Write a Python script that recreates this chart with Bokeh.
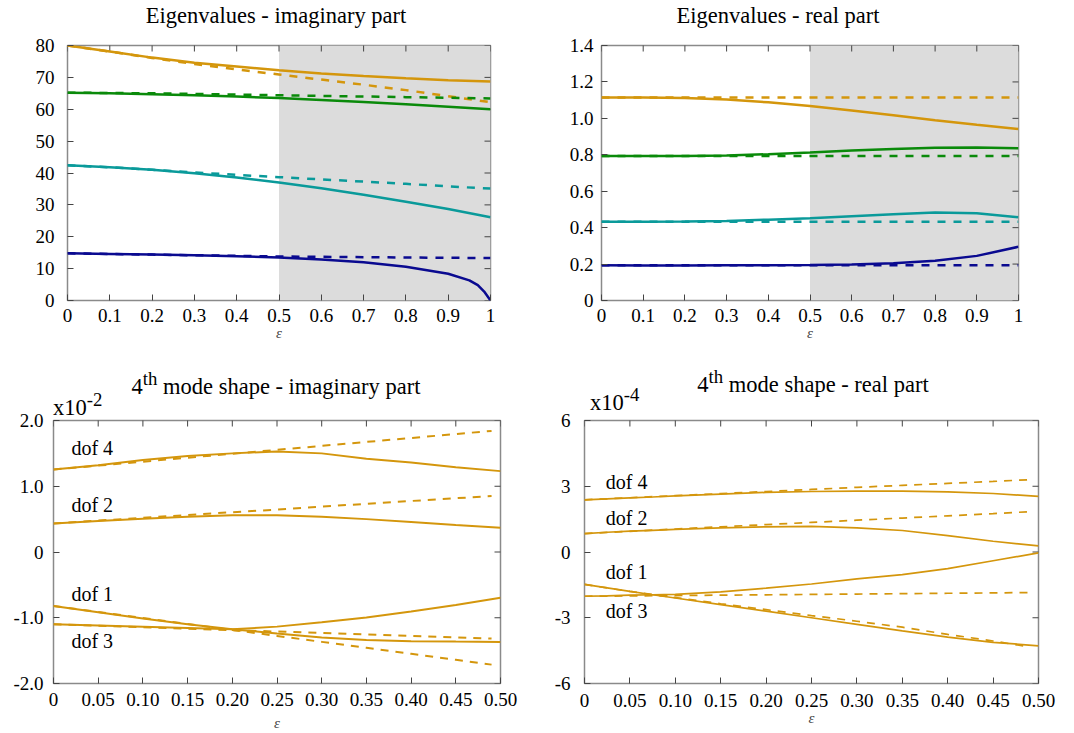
import math
from bokeh.plotting import figure
from bokeh.layouts import column, row
from bokeh.models import Range1d, FixedTicker, LinearAxis, BoxAnnotation, Div, ColumnDataSource
from bokeh.core.properties import value
from bokeh.embed import file_html
from bokeh.resources import INLINE

FONT = "Liberation Serif"
HTML_FONT = "'Liberation Serif', 'Times New Roman', serif"
ORANGE = "#d4960c"
GREEN = "#0a8a0a"
TEAL = "#0a9a9a"
NAVY = "#0a0a90"

# ---------------- data: eigenvalues ----------------
eps_top = [0, 0.1, 0.2, 0.3, 0.4, 0.5, 0.6, 0.7, 0.8, 0.9, 1.0]
eps_top_navy = [0, 0.1, 0.2, 0.3, 0.4, 0.5, 0.6, 0.7, 0.8, 0.9, 0.95, 0.97, 0.985, 1.0]
shade_start = 0.5
shade_end = 1.0

imag_m4_coupled = [80, 78.1, 76.2, 74.6, 73.4, 72.2, 71.2, 70.4, 69.7, 69.1, 68.7]
imag_m4_uncoupled = [80, 78.1, 76.1, 74.2, 72.5, 70.9, 69.3, 67.7, 66.0, 64.1, 62.2]
imag_m3_coupled = [65.2, 65.0, 64.7, 64.4, 64.0, 63.5, 62.9, 62.3, 61.6, 60.8, 60.0]
imag_m3_uncoupled = [65.2, 65.1, 65.0, 64.8, 64.6, 64.4, 64.2, 64.0, 63.8, 63.6, 63.4]
imag_m2_coupled = [42.4, 41.8, 41.0, 39.9, 38.6, 37.0, 35.2, 33.2, 31.0, 28.7, 26.1]
imag_m2_uncoupled = [42.4, 41.8, 41.0, 40.2, 39.4, 38.7, 38.0, 37.3, 36.6, 35.8, 35.1]
imag_m1_coupled = [14.8, 14.6, 14.4, 14.2, 13.9, 13.5, 12.9, 12.0, 10.6, 8.4, 6.3, 4.8, 2.8, 0.0]
imag_m1_uncoupled = [14.8, 14.6, 14.4, 14.2, 14.0, 13.8, 13.7, 13.6, 13.5, 13.4, 13.3]

real_m4_coupled = [1.115, 1.114, 1.112, 1.104, 1.088, 1.068, 1.043, 1.017, 0.990, 0.965, 0.941]
real_m4_uncoupled = [1.115, 1.115, 1.115, 1.115, 1.115, 1.115, 1.115, 1.115, 1.115, 1.115, 1.115]
real_m3_coupled = [0.794, 0.793, 0.793, 0.796, 0.803, 0.812, 0.823, 0.832, 0.839, 0.840, 0.836]
real_m3_uncoupled = [0.794, 0.794, 0.794, 0.794, 0.794, 0.794, 0.794, 0.794, 0.794, 0.794, 0.794]
real_m2_coupled = [0.433, 0.433, 0.434, 0.437, 0.444, 0.452, 0.463, 0.474, 0.483, 0.479, 0.457]
real_m2_uncoupled = [0.433, 0.433, 0.433, 0.433, 0.433, 0.433, 0.433, 0.433, 0.433, 0.433, 0.433]
real_m1_coupled = [0.193, 0.192, 0.192, 0.193, 0.194, 0.195, 0.198, 0.205, 0.218, 0.245, 0.295]
real_m1_uncoupled = [0.193, 0.193, 0.193, 0.193, 0.193, 0.193, 0.193, 0.193, 0.193, 0.193, 0.193]

top_x_ticks = [0, 0.1, 0.2, 0.3, 0.4, 0.5, 0.6, 0.7, 0.8, 0.9, 1.0]
top_x_labels = ["0", "0.1", "0.2", "0.3", "0.4", "0.5", "0.6", "0.7", "0.8", "0.9", "1"]
imag_y_ticks = [0, 10, 20, 30, 40, 50, 60, 70, 80]
imag_y_labels = ["0", "10", "20", "30", "40", "50", "60", "70", "80"]
real_y_ticks = [0, 0.2, 0.4, 0.6, 0.8, 1.0, 1.2, 1.4]
real_y_labels = ["0", "0.2", "0.4", "0.6", "0.8", "1.0", "1.2", "1.4"]

# ---------------- data: 4th mode shape ----------------
eps_mode = [0, 0.05, 0.10, 0.15, 0.20, 0.25, 0.30, 0.35, 0.40, 0.45, 0.50]
eps_mode_dash = [0, 0.05, 0.10, 0.15, 0.20, 0.25, 0.30, 0.35, 0.40, 0.45, 0.49]
eps_mode_fine = [0, 0.025, 0.05, 0.075, 0.10, 0.15, 0.20, 0.25, 0.30, 0.35, 0.40, 0.45, 0.50]

# imaginary part, units of 1e-2
mi_dof4 = [1.254, 1.32, 1.40, 1.46, 1.50, 1.53, 1.50, 1.42, 1.36, 1.29, 1.23]
mi_dof4_unc = [1.254, 1.314, 1.374, 1.434, 1.494, 1.554, 1.614, 1.674, 1.734, 1.794, 1.842]
mi_dof2 = [0.435, 0.47, 0.505, 0.535, 0.56, 0.56, 0.535, 0.50, 0.455, 0.41, 0.368]
mi_dof2_unc = [0.435, 0.478, 0.52, 0.563, 0.605, 0.645, 0.69, 0.733, 0.776, 0.818, 0.85]
mi_dof1 = [-0.821, -0.918, -1.01, -1.10, -1.176, -1.24, -1.30, -1.34, -1.356, -1.363, -1.367]
mi_dof1_unc = [-0.821, -0.912, -1.003, -1.094, -1.185, -1.276, -1.367, -1.458, -1.549, -1.64, -1.713]
mi_dof3 = [-1.10, -1.118, -1.135, -1.155, -1.176, -1.135, -1.07, -0.996, -0.904, -0.806, -0.697]
mi_dof3_unc = [-1.10, -1.122, -1.144, -1.166, -1.188, -1.21, -1.232, -1.254, -1.276, -1.298, -1.316]

# real part, units of 1e-4
mr_dof4 = [2.38, 2.42, 2.47, 2.51, 2.56, 2.64, 2.72, 2.76, 2.78, 2.78, 2.74, 2.67, 2.54]
mr_dof4_unc = [2.38, 2.475, 2.57, 2.665, 2.76, 2.855, 2.95, 3.04, 3.13, 3.22, 3.30]
mr_dof2 = [0.84, 0.90, 0.95, 0.99, 1.03, 1.10, 1.15, 1.17, 1.10, 0.98, 0.75, 0.49, 0.28]
mr_dof2_unc = [0.84, 0.945, 1.05, 1.15, 1.25, 1.35, 1.45, 1.55, 1.65, 1.75, 1.84]
mr_dof1 = [-1.48, -1.64, -1.80, -1.95, -2.10, -2.40, -2.70, -3.00, -3.30, -3.60, -3.88, -4.12, -4.28]
mr_dof1_unc = [-1.48, -1.80, -2.08, -2.36, -2.63, -2.90, -3.16, -3.43, -3.76, -4.06, -4.33]
mr_dof3 = [-2.02, -2.00, -1.97, -1.95, -1.93, -1.82, -1.65, -1.46, -1.23, -1.03, -0.76, -0.40, -0.04]
mr_dof3_unc = [-2.02, -2.003, -1.986, -1.969, -1.952, -1.935, -1.918, -1.90, -1.883, -1.866, -1.85]

dof_labels = ["dof 4", "dof 2", "dof 1", "dof 3"]
imag_label_y = [1.58, 0.71, -0.635, -1.356]
real_label_y = [3.2, 1.56, -0.91, -2.68]

mode_x_ticks = [0, 0.05, 0.10, 0.15, 0.20, 0.25, 0.30, 0.35, 0.40, 0.45, 0.50]
mode_x_labels = ["0", "0.05", "0.10", "0.15", "0.20", "0.25", "0.30", "0.35", "0.40", "0.45", "0.50"]
mi_y_ticks = [-2, -1, 0, 1, 2]
mi_y_labels = ["-2.0", "-1.0", "0", "1.0", "2.0"]
mr_y_ticks = [-6, -3, 0, 3, 6]
mr_y_labels = ["-6", "-3", "0", "3", "6"]

titles_top = ["Eigenvalues - imaginary part", "Eigenvalues - real part"]
titles_bottom = ["4<sup>th</sup> mode shape - imaginary part", "4<sup>th</sup> mode shape - real part"]
scales_bottom = ["x10<sup>-2</sup>", "x10<sup>-4</sup>"]

TICK_COLOR = "#444444"
FRAME_COLOR = "#8a8a8a"
TICK_SIZE = "19px"


def make_fig(fw, fh, left, right, top, bottom, xr, yr, xt, xl, yt, yl, ystand, xstand, lab_stand):
    p = figure(frame_width=fw, frame_height=fh, min_border_left=left, min_border_right=right,
               min_border_top=top, min_border_bottom=bottom, x_range=Range1d(*xr),
               y_range=Range1d(*yr), output_backend="svg", toolbar_location=None,
               title=None, x_axis_location=None, y_axis_location=None)
    p.background_fill_color = "white"
    p.border_fill_color = None
    p.outline_line_color = FRAME_COLOR
    p.outline_line_width = 1.5
    p.xgrid.visible = False
    p.ygrid.visible = False

    xa = LinearAxis(ticker=FixedTicker(ticks=xt), major_label_overrides=dict(zip(xt, xl)))
    ya = LinearAxis(ticker=FixedTicker(ticks=yt), major_label_overrides=dict(zip(yt, yl)))
    for ax in (xa, ya):
        ax.axis_line_color = None
        ax.major_tick_in = 6
        ax.major_tick_out = 0
        ax.minor_tick_in = 0
        ax.minor_tick_out = 0
        ax.major_tick_line_color = TICK_COLOR
        ax.minor_tick_line_color = None
        ax.major_label_text_font = FONT
        ax.major_label_text_font_size = TICK_SIZE
        ax.major_label_text_color = "black"
    xa.major_label_standoff = xstand
    ya.major_label_standoff = ystand
    xa.axis_label = "ε"
    xa.axis_label_text_font = FONT
    xa.axis_label_text_font_style = "italic"
    xa.axis_label_text_font_size = "15px"
    xa.axis_label_standoff = lab_stand
    p.add_layout(xa, "below")
    p.add_layout(ya, "left")
    # mirrored inward ticks on the top and right edges (half of each dash is clipped by the frame)
    p.scatter(x=xt, y=[yr[1]] * len(xt), marker="dash", angle=math.pi / 2, size=12,
              line_color=TICK_COLOR, line_width=1)
    p.scatter(x=[xr[1]] * len(yt), y=yt, marker="dash", size=12,
              line_color=TICK_COLOR, line_width=1)
    return p


def span(html, x, y, anchor):
    tx = "-50%" if anchor == "center" else "0"
    return ('<span style="position:absolute;left:%dpx;top:%dpx;transform:translate(%s,-50%%);'
            'white-space:nowrap;line-height:1;">%s</span>' % (x, y, tx, html))


LW = 2.5
DASH = "8 8"
LW2 = 2.0
DASH2 = "8 7"

# plots in one row share their top and bottom borders
TOP1, BOT1, H1 = 14, 46, 255
TOP2, BOT2, H2 = 74, 48, 263

# ---------------- top-left ----------------
p1 = make_fig(423, H1, 67, 50, TOP1, BOT1, (0, 1), (0, 80), top_x_ticks, top_x_labels,
              imag_y_ticks, imag_y_labels, 13, 8, 0)
p1.add_layout(BoxAnnotation(left=shade_start, right=shade_end, fill_color="#dcdcdc",
                            fill_alpha=1.0, line_color=None, level="underlay"))
for xs, ys, c in [(eps_top, imag_m4_uncoupled, ORANGE), (eps_top, imag_m3_uncoupled, GREEN),
                  (eps_top, imag_m2_uncoupled, TEAL), (eps_top, imag_m1_uncoupled, NAVY)]:
    p1.line(xs, ys, line_color=c, line_width=LW, line_dash=DASH)
for xs, ys, c in [(eps_top, imag_m4_coupled, ORANGE), (eps_top, imag_m3_coupled, GREEN),
                  (eps_top, imag_m2_coupled, TEAL), (eps_top_navy, imag_m1_coupled, NAVY)]:
    p1.line(xs, ys, line_color=c, line_width=LW)

# ---------------- top-right ----------------
p2 = make_fig(417, H1, 61, 52, TOP1, BOT1, (0, 1), (0, 1.4), top_x_ticks, top_x_labels,
              real_y_ticks, real_y_labels, 8, 8, 0)
p2.add_layout(BoxAnnotation(left=shade_start, right=shade_end, fill_color="#dcdcdc",
                            fill_alpha=1.0, line_color=None, level="underlay"))
for ys, c in [(real_m4_uncoupled, ORANGE), (real_m3_uncoupled, GREEN),
              (real_m2_uncoupled, TEAL), (real_m1_uncoupled, NAVY)]:
    p2.line(eps_top, ys, line_color=c, line_width=LW, line_dash=DASH)
for ys, c in [(real_m4_coupled, ORANGE), (real_m3_coupled, GREEN),
              (real_m2_coupled, TEAL), (real_m1_coupled, NAVY)]:
    p2.line(eps_top, ys, line_color=c, line_width=LW)

# ---------------- bottom-left ----------------
p3 = make_fig(447, H2, 53, 40, TOP2, BOT2, (0, 0.5), (-2, 2), mode_x_ticks, mode_x_labels,
              mi_y_ticks, mi_y_labels, 10, 9, 6)
for ys in [mi_dof4_unc, mi_dof2_unc, mi_dof1_unc, mi_dof3_unc]:
    p3.line(eps_mode_dash, ys, line_color=ORANGE, line_width=LW2, line_dash=DASH2)
for ys in [mi_dof4, mi_dof2, mi_dof1, mi_dof3]:
    p3.line(eps_mode, ys, line_color=ORANGE, line_width=LW2)
src3 = ColumnDataSource(dict(x=[0.02] * 4, y=imag_label_y, t=dof_labels))
p3.text(x="x", y="y", text="t", source=src3, text_font=value(FONT), text_font_size="20px",
        text_baseline="middle", text_align="left", text_color="black")

# ---------------- bottom-right ----------------
p4 = make_fig(454, H2, 44, 34, TOP2, BOT2, (0, 0.5), (-6, 6), mode_x_ticks, mode_x_labels,
              mr_y_ticks, mr_y_labels, 14, 10, 0)
for ys in [mr_dof4_unc, mr_dof2_unc, mr_dof1_unc, mr_dof3_unc]:
    p4.line(eps_mode_dash, ys, line_color=ORANGE, line_width=1.7, line_dash=DASH2)
for ys in [mr_dof4, mr_dof2, mr_dof1, mr_dof3]:
    p4.line(eps_mode_fine, ys, line_color=ORANGE, line_width=1.7)
src4 = ColumnDataSource(dict(x=[0.0235] * 4, y=real_label_y, t=dof_labels))
p4.text(x="x", y="y", text="t", source=src4, text_font=value(FONT), text_font_size="20px",
        text_baseline="middle", text_align="left", text_color="black")

# all titles live in one overlay div (page coordinates), drawn above the figures
spans = [span(titles_top[0], 276, 16, "center"),
         span(titles_top[1], 778, 16, "center"),
         span(titles_bottom[0], 276, 384, "center"),
         span(titles_bottom[1], 813, 382, "center"),
         span(scales_bottom[0], 53, 405, "left"),
         span(scales_bottom[1], 590, 400, "left")]
html = ('<div style="position:relative;width:1072px;height:31px;font-family:%s;'
        'font-size:22.5px;color:black;">%s</div>' % (HTML_FONT, "".join(spans)))
title_div = Div(text=html, width=1072, height=31, margin=0,
                styles={"z-index": "10", "overflow": "visible"})

layout = column(title_div, row(p1, p2), row(p3, p4))
open("out.html", "w").write(file_html(layout, INLINE))
